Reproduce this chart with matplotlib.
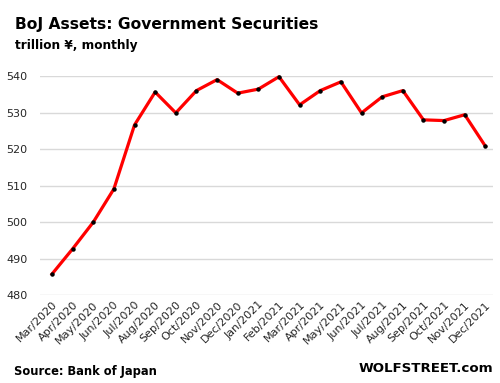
import matplotlib.pyplot as plt

months = ["Mar/2020", "Apr/2020", "May/2020", "Jun/2020", "Jul/2020", "Aug/2020",
          "Sep/2020", "Oct/2020", "Nov/2020", "Dec/2020", "Jan/2021", "Feb/2021",
          "Mar/2021", "Apr/2021", "May/2021", "Jun/2021", "Jul/2021", "Aug/2021",
          "Sep/2021", "Oct/2021", "Nov/2021", "Dec/2021"]
assets = [485.8, 492.7, 500.0, 509.1, 526.6, 535.6, 529.9, 536.0, 539.0, 535.3,
          536.4, 539.8, 532.1, 536.0, 538.4, 529.9, 534.3, 536.0, 528.0, 527.8,
          529.4, 520.8]
yticks = [480, 490, 500, 510, 520, 530, 540]

fig = plt.figure(figsize=(5, 3.83), dpi=100)
ax = fig.add_axes([0.08, 0.229, 0.906, 0.5726])

x = list(range(len(months)))
ax.plot(x, assets, color="#ff0000", lw=2.3, zorder=3, clip_on=False)
ax.plot(x, assets, linestyle="", marker="o", ms=2.2, color="black", zorder=4, clip_on=False)

ax.set_xlim(-0.58, len(months) - 1 + 0.37)
ax.set_ylim(480, 540)
ax.set_yticks(yticks)
ax.set_xticks(x)
ax.set_xticklabels(months, rotation=45, ha="right", rotation_mode="anchor")
ax.tick_params(axis="both", length=0, labelsize=8, labelcolor="#262626")
ax.tick_params(axis="y", pad=9)
ax.tick_params(axis="x", pad=3)
ax.grid(axis="y", color="#d9d9d9", lw=1)
ax.set_axisbelow(True)
for s in ax.spines.values():
    s.set_visible(False)

fig.text(0.03, 0.937, "BoJ Assets: Government Securities", fontsize=11.2, fontweight="bold", va="center")
fig.text(0.03, 0.88, "trillion \u00a5, monthly", fontsize=8.7, fontweight="bold", va="center")
fig.text(0.028, 0.031, "Source: Bank of Japan", fontsize=8.3, fontweight="bold", va="center")
fig.text(0.986, 0.039, "WOLFSTREET.com", fontsize=9.6, fontweight="bold", va="center", ha="right")

fig.savefig("out.png", dpi=100)
